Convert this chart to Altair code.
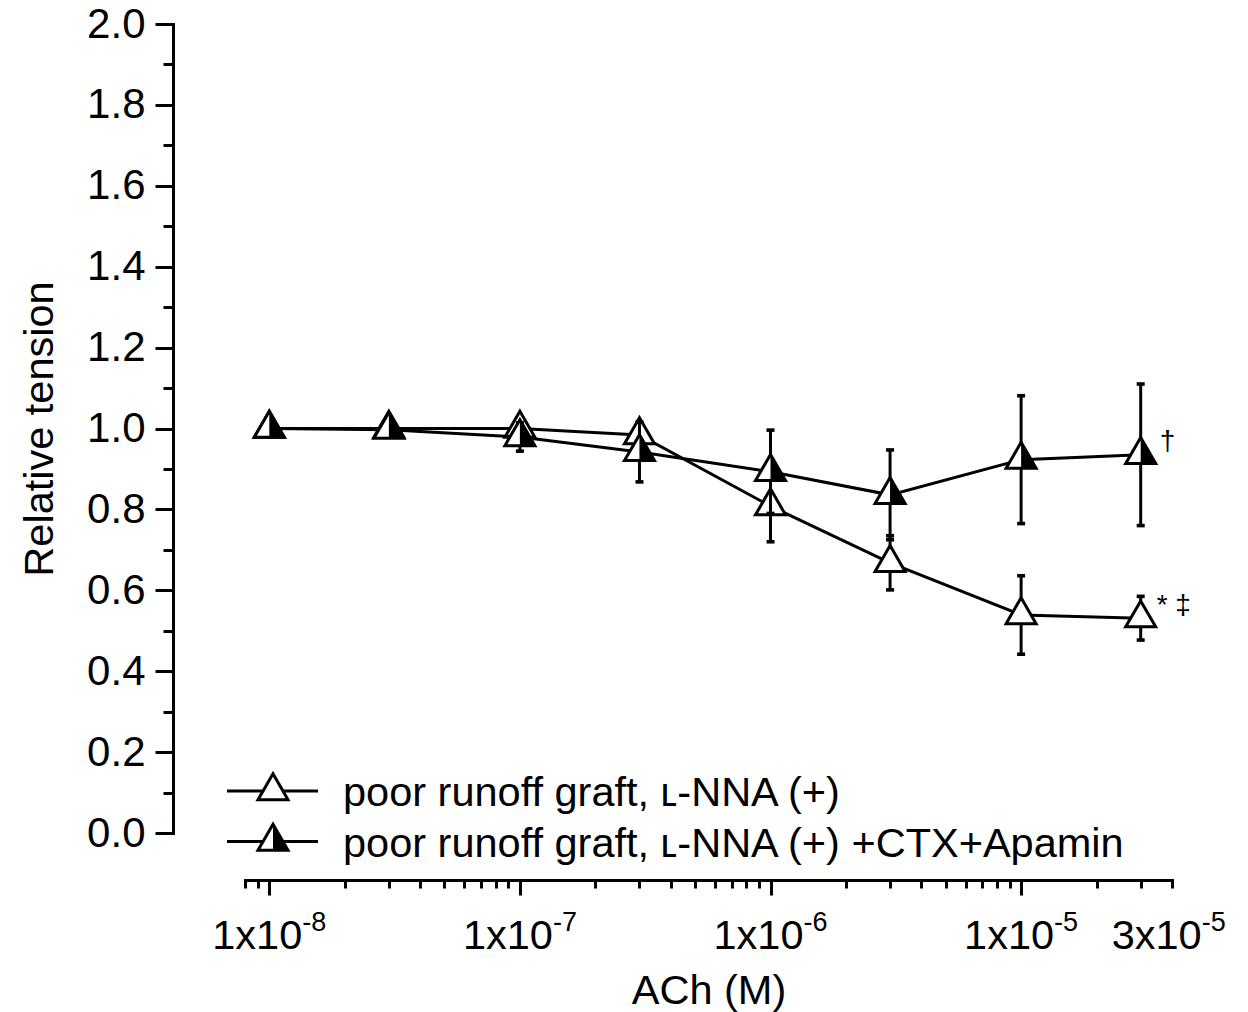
import altair as alt
import pandas as pd

# ---------------- data ----------------
conc = [1e-8, 3e-8, 1e-7, 3e-7, 1e-6, 3e-6, 1e-5, 3e-5]
open_mean = [1.000, 1.000, 1.000, 0.984, 0.808, 0.668, 0.539, 0.531]
open_err = [0.000, 0.000, 0.010, 0.020, 0.088, 0.067, 0.097, 0.054]
half_mean = [1.000, 0.997, 0.979, 0.942, 0.893, 0.836, 0.923, 0.935]
half_err = [0.000, 0.005, 0.035, 0.074, 0.103, 0.111, 0.158, 0.175]

series_open = "poor runoff graft, \u029f-NNA (+)"
series_half = "poor runoff graft, \u029f-NNA (+) +CTX+Apamin"

y_major = [0.0, 0.2, 0.4, 0.6, 0.8, 1.0, 1.2, 1.4, 1.6, 1.8, 2.0]
y_minor = [0.1, 0.3, 0.5, 0.7, 0.9, 1.1, 1.3, 1.5, 1.7, 1.9]
x_major = [1e-8, 1e-7, 1e-6, 1e-5]
x_minor = [8e-9, 9e-9,
           2e-8, 3e-8, 4e-8, 5e-8, 6e-8, 7e-8, 8e-8, 9e-8,
           2e-7, 3e-7, 4e-7, 5e-7, 6e-7, 7e-7, 8e-7, 9e-7,
           2e-6, 3e-6, 4e-6, 5e-6, 6e-6, 7e-6, 8e-6, 9e-6,
           2e-5, 3e-5, 4e-5]
x_label_vals = [1e-8, 1e-7, 1e-6, 1e-5, 3e-5]
x_label_base = ["1x10", "1x10", "1x10", "1x10", "3x10"]
x_label_exp = ["-8", "-7", "-6", "-5", "-5"]

FONT = "Liberation Sans"
FS_TICK = 42
FS_TXT = 41.5

df_open = pd.DataFrame({"conc": conc, "mean": open_mean,
                        "lo": [m - e for m, e in zip(open_mean, open_err)],
                        "hi": [m + e for m, e in zip(open_mean, open_err)]})
df_half = pd.DataFrame({"conc": conc, "mean": half_mean,
                        "lo": [m - e for m, e in zip(half_mean, half_err)],
                        "hi": [m + e for m, e in zip(half_mean, half_err)]})
df_lab = pd.DataFrame({"conc": x_label_vals, "base": x_label_base, "exp": x_label_exp})
df_lab_main = df_lab.iloc[:4]
df_lab_last = df_lab.iloc[4:]
df_one = pd.DataFrame({"k": [0]})

xs = alt.Scale(type="log", domain=[8e-9, 4e-5], nice=False)
ys = alt.Scale(domain=[0, 2], nice=False, zero=False)

TRI = "M0,-1.155L1,0.577L-1,0.577Z"
HALF = "M0,-1.155L1,0.577L0,0.577Z"
CAP = "M-1,-0.45L1,-0.45L1,0.45L-1,0.45Z"
TRI_SIZE = 900

ax_y_major = alt.Axis(orient="left", offset=72, values=y_major, format=".1f",
                      tickSize=18, tickWidth=3, domainWidth=3, labelFontSize=FS_TICK,
                      labelPadding=10, labelFlush=False, labelOverlap=False,
                      title="Relative tension", titleFontSize=FS_TXT,
                      titleFontWeight="normal", titlePadding=25, grid=False)
ax_y_minor = alt.Axis(orient="left", offset=72, values=y_minor, tickSize=10,
                      tickWidth=3, labels=False, domain=False, title=None, grid=False)
ax_x_major = alt.Axis(orient="bottom", offset=47, values=x_major, tickSize=15,
                      tickWidth=3, domainWidth=3, labels=False,
                      title="ACh (M)", titleFontSize=FS_TXT, titleFontWeight="normal",
                      titlePadding=74, grid=False)
ax_x_minor = alt.Axis(orient="bottom", offset=47, values=x_minor, tickSize=8,
                      tickWidth=3, labels=False, domain=False, title=None, grid=False)

X = alt.X("conc:Q", scale=xs, axis=None)


def series_layers(df, half):
    c = alt.Chart(df)
    line = c.mark_line(color="black", strokeWidth=3).encode(
        x=X, y=alt.Y("mean:Q", scale=ys, axis=None))
    bar = c.mark_rule(color="black", strokeWidth=3).encode(
        x=X, y=alt.Y("lo:Q", scale=ys, axis=None), y2="hi:Q")
    cap_lo = c.mark_point(shape=CAP, filled=True, size=64, color="black", opacity=1).encode(
        x=X, y=alt.Y("lo:Q", scale=ys, axis=None))
    cap_hi = c.mark_point(shape=CAP, filled=True, size=64, color="black", opacity=1).encode(
        x=X, y=alt.Y("hi:Q", scale=ys, axis=None))
    tri = c.mark_point(shape=TRI, filled=True, size=TRI_SIZE, fill="white",
                       stroke="black", strokeWidth=3, opacity=1).encode(
        x=X, y=alt.Y("mean:Q", scale=ys, axis=None))
    out = [line, bar, cap_lo, cap_hi, tri]
    if half:
        out.append(c.mark_point(shape=HALF, filled=True, size=TRI_SIZE, fill="black",
                                strokeWidth=0, opacity=1).encode(
            x=X, y=alt.Y("mean:Q", scale=ys, axis=None)))
    return out


# axes carriers
axes_minor = alt.Chart(df_open).mark_point(opacity=0).encode(
    x=alt.X("conc:Q", scale=xs, axis=ax_x_minor),
    y=alt.Y("mean:Q", scale=ys, axis=ax_y_minor))
axes_major = alt.Chart(df_open).mark_point(opacity=0).encode(
    x=alt.X("conc:Q", scale=xs, axis=ax_x_major),
    y=alt.Y("mean:Q", scale=ys, axis=ax_y_major))


# x tick labels with superscript exponents
def label_layers(df, dx):
    base = alt.Chart(df).mark_text(align="right", baseline="alphabetic", fontSize=FS_TXT,
                                   font=FONT, color="black", dx=dx).encode(
        x=X, y=alt.value(925), text="base:N")
    exp = alt.Chart(df).mark_text(align="left", baseline="alphabetic", fontSize=27,
                                  font=FONT, color="black", dx=dx).encode(
        x=X, y=alt.value(907), text="exp:N")
    return [base, exp]


# significance marks
last_half = df_half.iloc[-1:]
last_open = df_open.iloc[-1:]
mark_dag = alt.Chart(last_half).mark_text(text="\u2020", align="left", baseline="alphabetic",
                                           fontSize=28, font=FONT, color="black", dx=19, dy=-5).encode(
    x=X, y=alt.Y("mean:Q", scale=ys, axis=None))
mark_star = alt.Chart(last_open).mark_text(text="* \u2021", align="left", baseline="alphabetic",
                                            fontSize=28, font=FONT, color="black", dx=16, dy=-4).encode(
    x=X, y=alt.Y("mean:Q", scale=ys, axis=None))


# legend (drawn by hand)
def legend_row(ypx, label, half):
    c = alt.Chart(df_one)
    out = [
        c.mark_rule(color="black", strokeWidth=3).encode(
            x=alt.value(-18), x2=alt.value(73), y=alt.value(ypx)),
        c.mark_point(shape=TRI, filled=True, size=TRI_SIZE, fill="white", stroke="black",
                     strokeWidth=3, opacity=1).encode(x=alt.value(28), y=alt.value(ypx)),
    ]
    if half:
        out.append(c.mark_point(shape=HALF, filled=True, size=TRI_SIZE, fill="black",
                                strokeWidth=0, opacity=1).encode(x=alt.value(28), y=alt.value(ypx)))
    out.append(c.mark_text(align="left", baseline="alphabetic", fontSize=FS_TXT, font=FONT,
                           color="black", dy=15).encode(
        x=alt.value(98), y=alt.value(ypx), text=alt.value(label)))
    return out


layers = [axes_minor, axes_major]
layers += series_layers(df_open, False)
layers += series_layers(df_half, True)
layers += [mark_dag, mark_star]
layers += label_layers(df_lab_main, 33)
layers += label_layers(df_lab_last, 61)
layers += legend_row(767, series_open, False)
layers += legend_row(817.5, series_half, True)

chart = alt.layer(*layers).resolve_axis(
    x="independent", y="independent"
).properties(
    width=927, height=809,
    autosize=alt.AutoSizeParams(type="none"),
    padding={"left": 237, "top": 16, "right": 60, "bottom": 180},
).configure(font=FONT).configure_view(stroke=None).configure_axis(
    domainColor="black", tickColor="black", labelColor="black", titleColor="black",
    labelFont=FONT, titleFont=FONT, domainCap="square"
)

chart.save("out.html", embed_options={"renderer": "svg", "actions": False})
